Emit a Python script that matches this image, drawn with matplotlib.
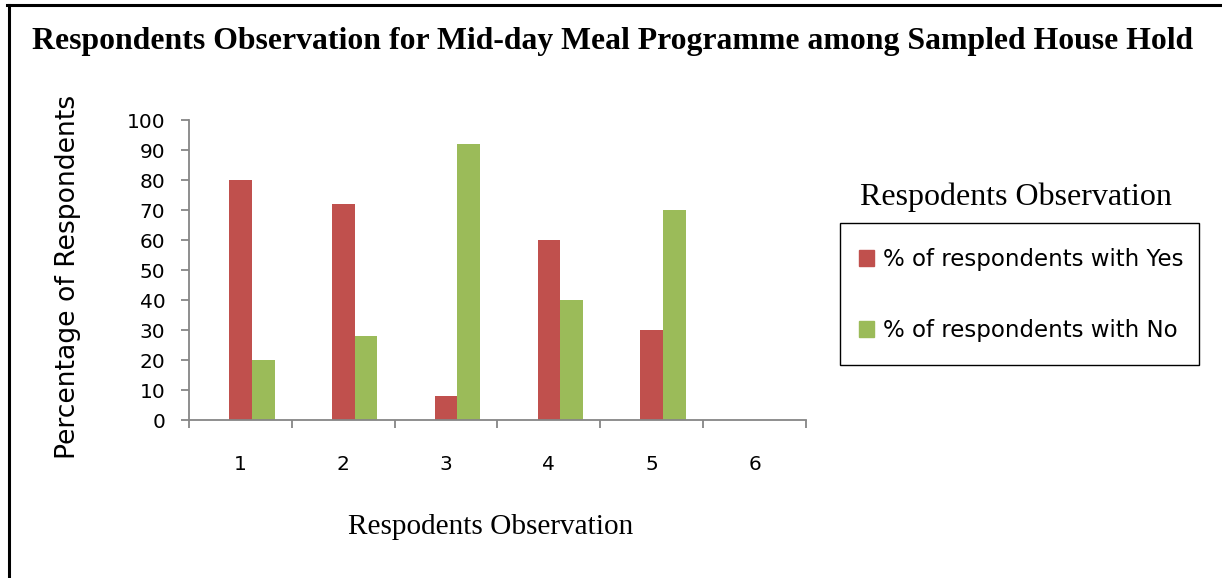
import numpy as np
import matplotlib
matplotlib.use('Agg')
import matplotlib.pyplot as plt
from matplotlib.patches import Patch, Rectangle
from matplotlib.lines import Line2D

categories = ['1', '2', '3', '4', '5', '6']
yes_pct = [80, 72, 8, 60, 30, np.nan]
no_pct = [20, 28, 92, 40, 70, np.nan]
yticks = [0, 10, 20, 30, 40, 50, 60, 70, 80, 90, 100]

red = '#C0504D'
green = '#9BBB59'
axis_grey = '#868686'
sans = 'DejaVu Sans'
serif = 'Liberation Serif'
W, H = 1222, 578

fig = plt.figure(figsize=(W / 100, H / 100), dpi=100)
ax = fig.add_axes([189 / W, 1 - 420 / H, (806 - 189) / W, 300 / H])

x = np.arange(len(categories))
w = 0.222
ax.bar(x, yes_pct, width=w, color=red)
ax.bar(x + w, no_pct, width=w, color=green)

ax.set_xlim(-0.5, len(categories) - 0.5)
ax.set_ylim(0, 100)
ax.set_yticks(yticks)
ax.set_yticklabels([str(v) for v in yticks], fontfamily=sans, fontsize=14.5)

ax.set_xticks(x)
ax.set_xticklabels(categories, fontfamily=sans, fontsize=14.5)
ax.set_xticks(np.arange(-0.5, len(categories)), minor=True)
ax.tick_params(axis='x', which='major', length=0, pad=25)
ax.tick_params(axis='x', which='minor', length=6, width=1.3, color=axis_grey, direction='out')
ax.tick_params(axis='y', length=6, width=1.3, color=axis_grey, pad=11)

for s in ['top', 'right']:
    ax.spines[s].set_visible(False)
for s in ['left', 'bottom']:
    ax.spines[s].set_color(axis_grey)
    ax.spines[s].set_linewidth(1.3)

fig.text(68 / W, 1 - 277 / H, 'Percentage of Respondents', fontfamily=sans,
         fontsize=19.2, rotation=90, ha='center', va='center')
fig.text(491 / W, 1 - 527 / H, 'Respodents Observation', fontfamily=serif,
         fontsize=21.1, ha='center', va='center')

fig.text(0.5 * (30 + 1195) / W, 1 - 42 / H,
         'Respondents Observation for Mid-day Meal Programme among Sampled House Hold',
         fontfamily=serif, fontweight='bold', fontsize=22.9, ha='center', va='center')

# legend
fig.text(1015.5 / W, 1 - 197 / H, 'Respodents Observation', fontfamily=serif,
         fontsize=23, ha='center', va='center')
fig.add_artist(Rectangle((840 / W, 1 - 365 / H), (1199 - 840) / W, (365 - 223) / H,
                         transform=fig.transFigure, facecolor='none',
                         edgecolor='black', lw=1.0))
handles = [Patch(color=red), Patch(color=green)]
leg = fig.legend(handles, ['% of respondents with Yes', '% of respondents with No'],
                 loc='center', bbox_to_anchor=(1021 / W, 1 - 295 / H),
                 prop={'family': sans, 'size': 16.5}, frameon=False,
                 handlelength=0.66, handleheight=0.66, handletextpad=0.4,
                 labelspacing=2.1, borderpad=0, borderaxespad=0)

# outer border (left and top)
fig.add_artist(Line2D([8.5 / W, 8.5 / W], [0, 1 - 4.5 / H], color='black',
                      lw=2.2, transform=fig.transFigure))
fig.add_artist(Line2D([7.5 / W, 1], [1 - 4.5 / H, 1 - 4.5 / H], color='black',
                      lw=2.2, transform=fig.transFigure))

fig.savefig('out.png', dpi=100)
